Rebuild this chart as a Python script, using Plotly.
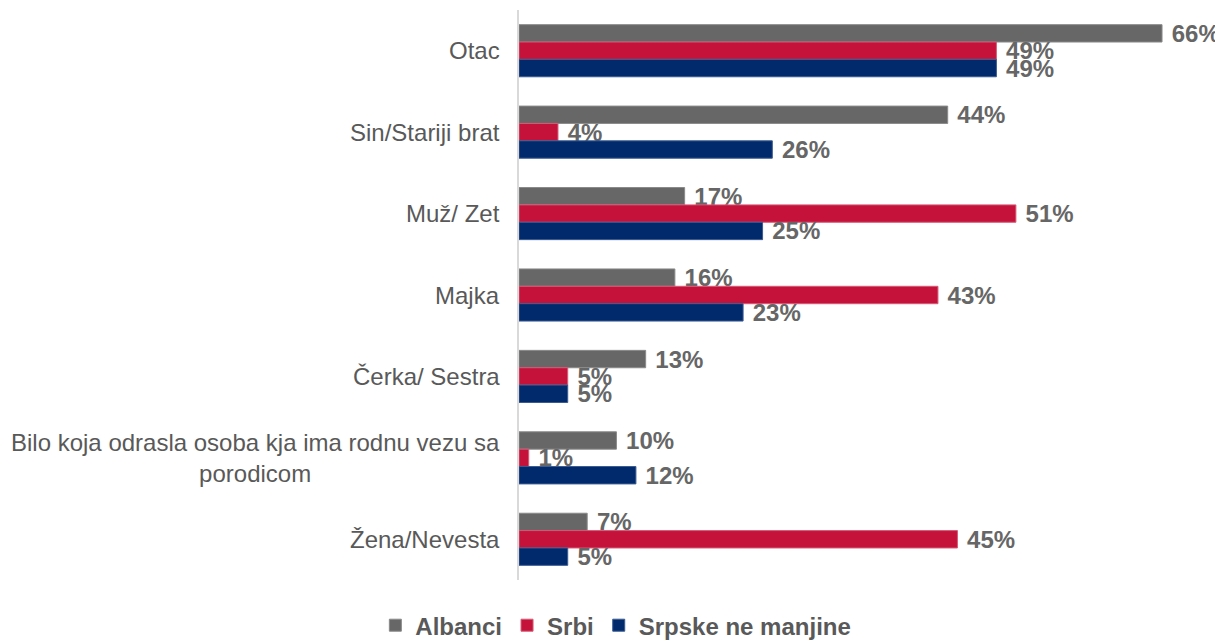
import plotly.graph_objects as go

categories = ["Otac", "Sin/Stariji brat", "Muž/ Zet", "Majka", "Čerka/ Sestra",
              "Bilo koja odrasla osoba kja ima rodnu vezu sa<br>porodicom", "Žena/Nevesta"]
albanci = [66, 44, 17, 16, 13, 10, 7]
srbi = [49, 4, 51, 43, 5, 1, 45]
srpske = [49, 26, 25, 23, 5, 12, 5]

series = [
    ("Albanci", albanci, "#676767", "#8a8a8a"),
    ("Srbi", srbi, "#c4123b", "#d65a75"),
    ("Srpske ne manjine", srpske, "#002a6c", "#3a5a90"),
]

FONT = "Liberation Sans, Arial"

fig = go.Figure()
for name, vals, col, edge in series:
    fig.add_trace(go.Bar(
        y=categories, x=vals, name=name, orientation="h",
        marker=dict(color=col, line=dict(color=edge, width=1)),
        text=[f"\u00a0<b>{v}%</b>" for v in vals], textposition="outside",
        textfont=dict(family=FONT, size=24, color="#666666"),
        constraintext="none", cliponaxis=False,
    ))

# category labels as centred annotations (so the wrapped label centres its lines)
for c in categories:
    fig.add_annotation(x=0, y=c, xref="x", yref="y", text=c, showarrow=False,
                       xanchor="right", xshift=-17, align="center",
                       font=dict(family=FONT, size=24, color="#595959"))

fig.update_layout(
    width=1215, height=633,
    margin=dict(l=511, r=22, t=2, b=61, autoexpand=False),
    plot_bgcolor="white", paper_bgcolor="white",
    barmode="group", bargap=0.36, bargroupgap=0,
    font=dict(family=FONT, color="#595959"),
    xaxis=dict(range=[0, 70], visible=False),
    yaxis=dict(autorange="reversed", showline=True, linecolor="#d9d9d9", linewidth=2,
               ticks="", showticklabels=False, showgrid=False),
    legend=dict(orientation="h", x=0.142, xanchor="center",
                y=-0.08, yanchor="middle",
                font=dict(size=24, color="#595959", family=FONT, weight="bold")),
)

fig.write_html("out.html")
